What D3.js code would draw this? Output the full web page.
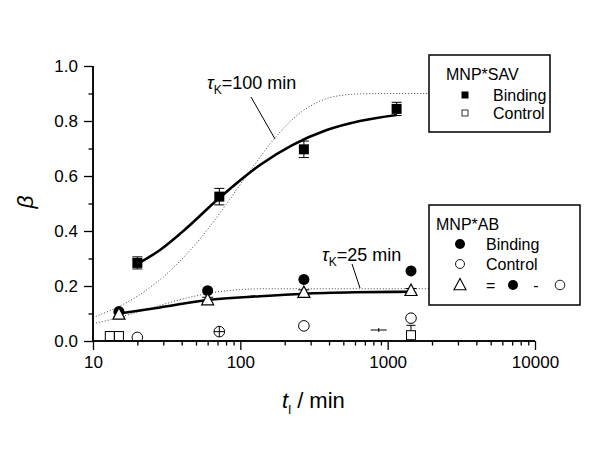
<!DOCTYPE html>
<html><head><meta charset="utf-8">
<script src="https://cdn.jsdelivr.net/npm/d3@7"></script>
<style>body{margin:0;background:#fff}svg text{font-family:"Liberation Sans",Arial,sans-serif}</style>
</head><body>
<svg id="c" width="600" height="450"></svg>
<script>
// ---------- data ----------
const xMajor = [10, 100, 1000, 10000];
const xMinor = [20,30,40,50,60,70,80,90,200,300,400,500,600,700,800,900,2000,3000,4000,5000,6000,7000,8000,9000];
const yMajor = [0, 0.2, 0.4, 0.6, 0.8, 1.0];
const yMinor = [0.1, 0.3, 0.5, 0.7, 0.9];

const savT = [20, 72, 270, 1150];
const savBinding = [0.284, 0.525, 0.697, 0.844];
const savBindingErr = [0.022, 0.03, 0.03, 0.024];

const savCtrlT = [13, 15, 1440];
const savControl = [0.018, 0.018, 0.021];
const savControlErr = [0.007, 0.007, 0.036];

const abT = [15, 60, 270, 1440];
const abBinding = [0.107, 0.183, 0.224, 0.255];
const abCtrlT = [20, 72, 270, 1440];
const abControl = [0.013, 0.034, 0.055, 0.083];
const abDiff = [0.097, 0.149, 0.176, 0.183];
const abDiffErr = [0.008, 0.01, 0.01, 0.008];

// fitted curves
const savFitT = [20, 28.5, 40, 72, 136, 227, 386, 648, 1150];
const savFit = [0.28, 0.331, 0.395, 0.52, 0.64, 0.713, 0.767, 0.80, 0.822];
const abFitT = [15, 28.5, 60, 136, 270, 600, 1440];
const abFit = [0.10, 0.122, 0.149, 0.163, 0.172, 0.177, 0.179];

const savModelT = [10,13,16,20,25,30,40,50,60,80,100,130,160,200,250,300,400,500,700,1000,1900];
const savModel = [0.086,0.110,0.133,0.163,0.199,0.233,0.297,0.354,0.406,0.496,0.569,0.654,0.718,0.778,0.826,0.855,0.884,0.894,0.899,0.9,0.9];
const abModelT = [10,13,16,20,25,30,40,50,60,80,100,150,300,1900];
const abModel = [0.063,0.077,0.090,0.105,0.120,0.133,0.152,0.164,0.173,0.182,0.187,0.190,0.19,0.19];

// odd small marks near the baseline
const crossT = [72], crossB = [0.034];
const capT = [870], capB = [0.04];

// ---------- drawing ----------
const svg = d3.select("#c");
const x = d3.scaleLog().domain([10, 10000]).range([93, 535]);
const y = d3.scaleLinear().domain([0, 1]).range([341, 66]);
const F = "Liberation Sans, Arial, sans-serif";

svg.append("defs").append("clipPath").attr("id","clip")
  .append("rect").attr("x",93).attr("y",40).attr("width",460).attr("height",301);

const plot = svg.append("g").attr("clip-path","url(#clip)");

const line = d3.line().x(d => x(d[0])).y(d => y(d[1])).curve(d3.curveMonotoneX);
const zip = (a,b) => a.map((v,i)=>[v,b[i]]);

plot.append("path").attr("d", line(zip(savModelT, savModel)))
  .attr("fill","none").attr("stroke","#444").attr("stroke-width",1).attr("stroke-dasharray","1,2");
plot.append("path").attr("d", line(zip(abModelT, abModel)))
  .attr("fill","none").attr("stroke","#444").attr("stroke-width",1).attr("stroke-dasharray","1,2");
plot.append("path").attr("d", line(zip(savFitT, savFit)))
  .attr("fill","none").attr("stroke","#000").attr("stroke-width",2.6);
plot.append("path").attr("d", line(zip(abFitT, abFit)))
  .attr("fill","none").attr("stroke","#000").attr("stroke-width",2.6);

function errBars(g, ts, vs, es, cap){
  ts.forEach((t,i)=>{
    const cx = x(t), y1 = y(vs[i]+es[i]), y2 = y(vs[i]-es[i]);
    g.append("line").attr("x1",cx).attr("x2",cx).attr("y1",y1).attr("y2",y2).attr("stroke","#000").attr("stroke-width",1);
    [y1,y2].forEach(yy=>g.append("line").attr("x1",cx-cap).attr("x2",cx+cap).attr("y1",yy).attr("y2",yy).attr("stroke","#000").attr("stroke-width",1));
  });
}
errBars(plot, savT, savBinding, savBindingErr, 5);
errBars(plot, savCtrlT, savControl, savControlErr, 4.5);
errBars(plot, abT, abDiff, abDiffErr, 5.5);

plot.selectAll(null).data(zip(savCtrlT, savControl)).enter().append("rect")
  .attr("x", d=>x(d[0])-4.5).attr("y", d=>y(d[1])-4.5).attr("width",9).attr("height",9)
  .attr("fill","#fff").attr("stroke","#000").attr("stroke-width",1);
plot.selectAll(null).data(zip(savT, savBinding)).enter().append("rect")
  .attr("x", d=>x(d[0])-5).attr("y", d=>y(d[1])-5).attr("width",10).attr("height",10)
  .attr("fill","#000");
plot.selectAll(null).data(zip(abCtrlT, abControl)).enter().append("circle")
  .attr("cx", d=>x(d[0])).attr("cy", d=>y(d[1])).attr("r",5.3)
  .attr("fill","#fff").attr("stroke","#000").attr("stroke-width",1);
zip(crossT, crossB).forEach(d=>{
  const cx=x(d[0]), cy=y(d[1]);
  plot.append("line").attr("x1",cx-5.3).attr("x2",cx+5.3).attr("y1",cy).attr("y2",cy).attr("stroke","#000");
  plot.append("line").attr("x1",cx).attr("x2",cx).attr("y1",cy-5.3).attr("y2",cy+5.3).attr("stroke","#000");
});
zip(capT, capB).forEach(d=>{
  const cx=x(d[0]), cy=y(d[1]);
  plot.append("line").attr("x1",cx-8).attr("x2",cx+8).attr("y1",cy).attr("y2",cy).attr("stroke","#000");
  plot.append("line").attr("x1",cx).attr("x2",cx).attr("y1",cy-2).attr("y2",cy+2).attr("stroke","#000");
});
plot.selectAll(null).data(zip(abT, abBinding)).enter().append("circle")
  .attr("cx", d=>x(d[0])).attr("cy", d=>y(d[1])).attr("r",5.5).attr("fill","#000");
const tri = (cx,cy,s)=>`M${cx},${cy-s*0.55}L${cx+s/2},${cy+s*0.4}L${cx-s/2},${cy+s*0.4}Z`;
plot.selectAll(null).data(zip(abT, abDiff)).enter().append("path")
  .attr("d", d=>tri(x(d[0]), y(d[1]), 12))
  .attr("fill","#fff").attr("stroke","#000").attr("stroke-width",1.2);

// axes
const ax = svg.append("g").attr("transform","translate(0,341)");
ax.call(d3.axisBottom(x).tickValues(xMajor).tickSize(9).tickPadding(6).tickFormat(d3.format("d")));
const axm = svg.append("g").attr("transform","translate(0,341)");
axm.call(d3.axisBottom(x).tickValues(xMinor).tickSize(4.5).tickFormat(""));
const ay = svg.append("g").attr("transform","translate(93,0)");
ay.call(d3.axisLeft(y).tickValues(yMajor).tickSize(9).tickPadding(6).tickFormat(d3.format(".1f")));
const aym = svg.append("g").attr("transform","translate(93,0)");
aym.call(d3.axisLeft(y).tickValues(yMinor).tickSize(4.5).tickFormat(""));
[ax,axm,ay,aym].forEach(g=>{
  g.select(".domain").attr("stroke","#000").attr("stroke-width",1.5).attr("d", g===ax||g===axm ? "M93,0H535" : "M0,341V66");
  g.selectAll(".tick line").attr("stroke","#000").attr("stroke-width",1.3);
  g.selectAll("text").attr("font-family",F).attr("font-size",17).attr("fill","#000");
});

svg.append("text").attr("transform","translate(33,202) rotate(-90)").attr("text-anchor","middle")
  .attr("font-family",F).attr("font-size",23).attr("font-style","italic").text("β");
const xt = svg.append("text").attr("x",282).attr("y",408).attr("font-family",F).attr("font-size",22);
xt.append("tspan").attr("font-style","italic").text("t");
xt.append("tspan").attr("font-size",13).attr("dy",6).text("l");
xt.append("tspan").attr("dy",-6).text(" / min");

function tauLabel(x0, yb, txt){
  const t = svg.append("text").attr("x",x0).attr("y",yb).attr("font-family",F).attr("font-size",18);
  t.append("tspan").attr("font-style","italic").text("τ");
  t.append("tspan").attr("font-size",12).attr("dy",5).text("K");
  t.append("tspan").attr("dy",-5).text(txt);
}
tauLabel(207, 89, "=100 min");
svg.append("line").attr("x1",251).attr("y1",97).attr("x2",275).attr("y2",139).attr("stroke","#000").attr("stroke-width",1);
tauLabel(322, 261, "=25 min");
svg.append("line").attr("x1",352).attr("y1",264).attr("x2",360).attr("y2",288).attr("stroke","#000").attr("stroke-width",1);

const lg1 = svg.append("g");
lg1.append("rect").attr("x",429).attr("y",55).attr("width",121).attr("height",77)
  .attr("fill","#fff").attr("stroke","#000").attr("stroke-width",1.5);
lg1.append("text").attr("x",446).attr("y",80).attr("font-family",F).attr("font-size",16).text("MNP*SAV");
lg1.append("rect").attr("x",461.5).attr("y",91.5).attr("width",7).attr("height",7).attr("fill","#000");
lg1.append("text").attr("x",493).attr("y",101).attr("font-family",F).attr("font-size",16).text("Binding");
lg1.append("rect").attr("x",462).attr("y",110).attr("width",6).attr("height",6).attr("fill","#fff").attr("stroke","#000").attr("stroke-width",0.8);
lg1.append("text").attr("x",493).attr("y",119).attr("font-family",F).attr("font-size",16).text("Control");

const lg2 = svg.append("g");
lg2.append("rect").attr("x",429).attr("y",205).attr("width",151).attr("height",100)
  .attr("fill","#fff").attr("stroke","#000").attr("stroke-width",1.5);
lg2.append("text").attr("x",436).attr("y",230).attr("font-family",F).attr("font-size",16).text("MNP*AB");
lg2.append("circle").attr("cx",460).attr("cy",244).attr("r",5).attr("fill","#000");
lg2.append("text").attr("x",486).attr("y",250).attr("font-family",F).attr("font-size",16).text("Binding");
lg2.append("circle").attr("cx",460).attr("cy",264).attr("r",4.5).attr("fill","#fff").attr("stroke","#000").attr("stroke-width",0.9);
lg2.append("text").attr("x",486).attr("y",270).attr("font-family",F).attr("font-size",16).text("Control");
lg2.append("path").attr("d",tri(460,285,12)).attr("fill","#fff").attr("stroke","#000").attr("stroke-width",1.1);
lg2.append("text").attr("x",486).attr("y",291).attr("font-family",F).attr("font-size",16).text("=");
lg2.append("circle").attr("cx",513).attr("cy",285).attr("r",5).attr("fill","#000");
lg2.append("text").attr("x",536).attr("y",291).attr("text-anchor","middle").attr("font-family",F).attr("font-size",16).text("-");
lg2.append("circle").attr("cx",560).attr("cy",285).attr("r",4.8).attr("fill","#fff").attr("stroke","#000").attr("stroke-width",0.9);
</script>
</body></html>
